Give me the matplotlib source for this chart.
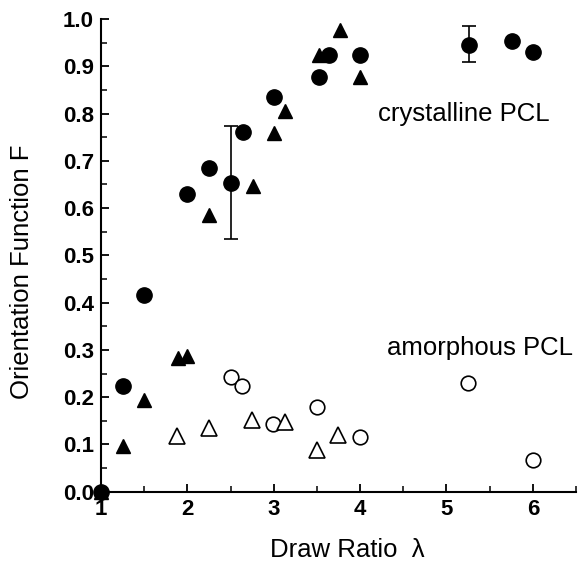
import matplotlib

matplotlib.use('Agg')
import matplotlib.pyplot as plt
from matplotlib.ticker import MultipleLocator, FormatStrFormatter

plt.rcParams['font.family'] = ['Liberation Sans', 'DejaVu Sans']

# crystalline PCL, filled circles
cryst_circ_x = [1.0, 1.25, 1.5, 2.0, 2.25, 2.5, 2.64, 3.0, 3.52, 3.64, 4.0, 5.26, 5.76, 6.0]
cryst_circ_y = [0.0, 0.224, 0.416, 0.629, 0.684, 0.654, 0.760, 0.834, 0.877, 0.924, 0.924, 0.946, 0.953, 0.930]

# crystalline PCL, filled triangles
cryst_tri_x = [1.0, 1.25, 1.5, 1.89, 2.0, 2.25, 2.76, 3.0, 3.13, 3.52, 3.77, 4.0]
cryst_tri_y = [0.0, 0.097, 0.194, 0.283, 0.288, 0.585, 0.647, 0.758, 0.806, 0.924, 0.977, 0.878]

# amorphous PCL, open circles
amor_circ_x = [2.5, 2.63, 2.99, 3.5, 4.0, 5.25, 6.0]
amor_circ_y = [0.242, 0.224, 0.143, 0.180, 0.115, 0.229, 0.067]

# amorphous PCL, open triangles
amor_tri_x = [1.88, 2.25, 2.75, 3.13, 3.5, 3.75]
amor_tri_y = [0.118, 0.135, 0.152, 0.148, 0.088, 0.120]

# error bars (centre, lower, upper)
err_x = [2.5, 5.26]
err_y = [0.654, 0.946]
err_lo = [0.534, 0.908]
err_hi = [0.774, 0.986]

fig = plt.figure(figsize=(5.83, 5.65), dpi=100)
ax = fig.add_axes([0.1732, 0.1297, 0.8148, 0.8367])

yerr = [[c - lo for c, lo in zip(err_y, err_lo)], [hi - c for c, hi in zip(err_y, err_hi)]]
ax.errorbar(err_x, err_y, yerr=yerr, fmt='none', ecolor='black', elinewidth=1.2,
            capsize=5, capthick=1.2, zorder=2)

ax.plot(cryst_tri_x, cryst_tri_y, '^', color='black', ms=10.5, ls='none', zorder=3, clip_on=False)
ax.plot(cryst_circ_x, cryst_circ_y, 'o', color='black', ms=11, ls='none', zorder=4, clip_on=False)
ax.plot(amor_circ_x, amor_circ_y, 'o', mfc='white', mec='black', mew=1.2, ms=10.5,
        ls='none', zorder=3)
ax.plot(amor_tri_x, amor_tri_y, '^', mfc='white', mec='black', mew=1.2, ms=11,
        ls='none', zorder=3)

ax.text(4.21, 0.80, 'crystalline PCL', fontsize=18.5, va='center', ha='left')
ax.text(4.31, 0.304, 'amorphous PCL', fontsize=18.5, va='center', ha='left')

ax.set_xlim(1, 6.5)
ax.set_ylim(0, 1.0)
ax.xaxis.set_major_locator(MultipleLocator(1))
ax.xaxis.set_minor_locator(MultipleLocator(0.5))
ax.yaxis.set_major_locator(MultipleLocator(0.1))
ax.yaxis.set_minor_locator(MultipleLocator(0.05))
ax.yaxis.set_major_formatter(FormatStrFormatter('%.1f'))

for side in ('top', 'right'):
    ax.spines[side].set_visible(False)
for side in ('left', 'bottom'):
    ax.spines[side].set_linewidth(1.5)

ax.tick_params(which='major', direction='in', length=6, width=1.3, labelsize=16, pad=5)
ax.tick_params(which='minor', direction='in', length=4, width=1.1)
for lab in ax.get_xticklabels() + ax.get_yticklabels():
    lab.set_fontweight('bold')

ax.set_xlabel('Draw Ratio  λ', fontsize=18.5)
ax.set_ylabel('Orientation Function F', fontsize=18.5)
ax.xaxis.set_label_coords(0.519, -0.098)
ax.yaxis.set_label_coords(-0.14, 0.465)

fig.savefig('out.png', dpi=100)
